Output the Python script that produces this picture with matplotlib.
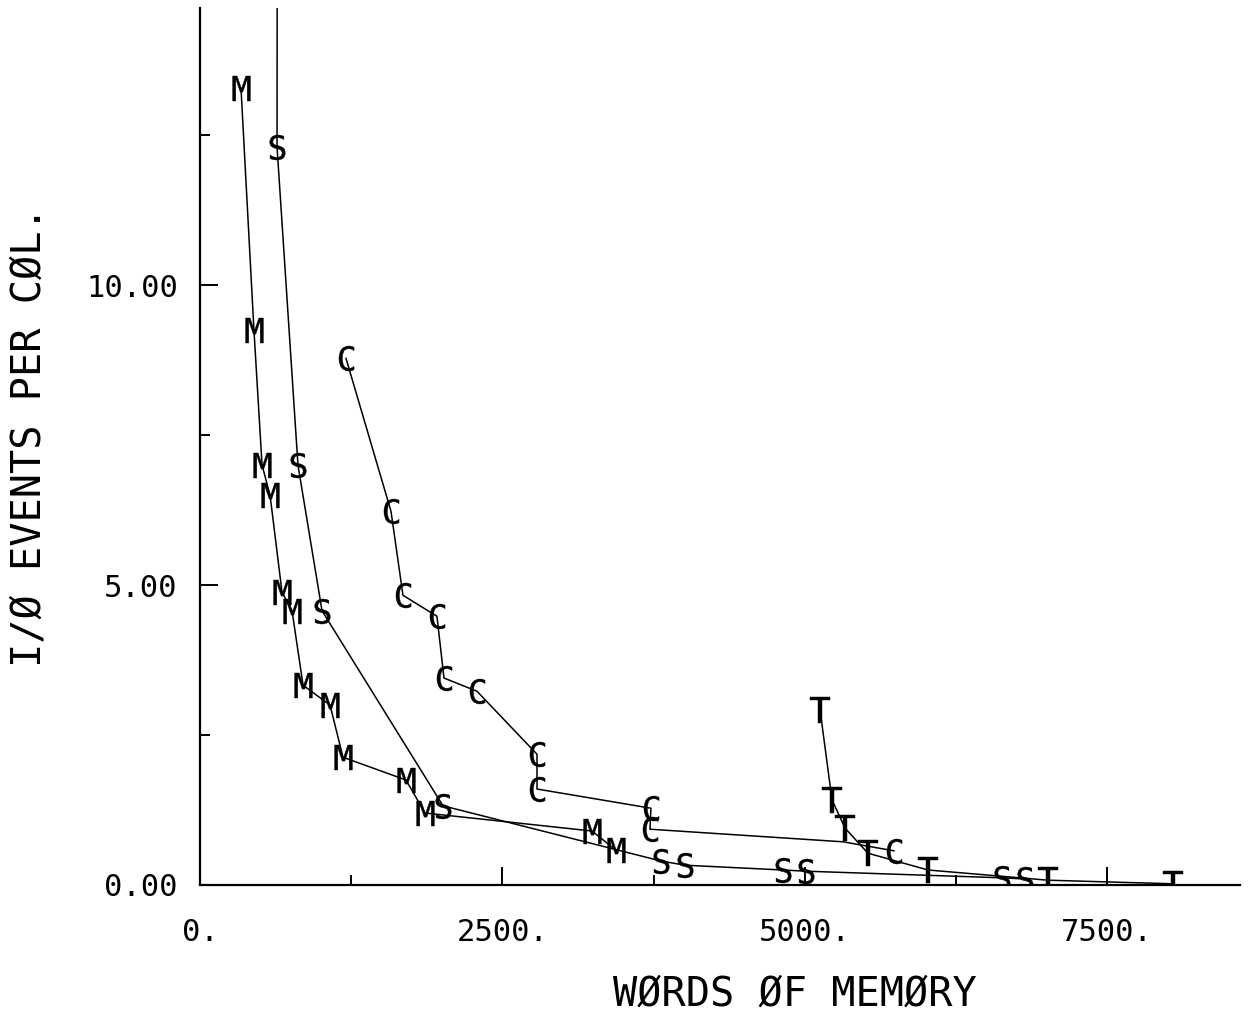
import matplotlib
matplotlib.use("Agg")
import matplotlib.pyplot as plt
from matplotlib.ticker import FixedLocator, FixedFormatter

# ---- data ----
m_x = [339, 446, 513, 579, 678, 761, 852, 1075, 1182, 1703, 1860, 3241, 3439]
m_y = [13.28, 9.25, 7.00, 6.50, 4.88, 4.57, 3.33, 3.00, 2.13, 1.75, 1.20, 0.90, 0.58]

s_x = [640, 637, 810, 1009, 2009, 3811, 4010, 4820, 5010, 6630, 6820]
s_y = [20.0, 12.30, 7.00, 4.57, 1.32, 0.40, 0.33, 0.25, 0.23, 0.12, 0.10]

c_x = [1207, 1579, 1678, 1959, 2017, 2290, 2786, 2786, 3728, 3720, 5316, 5737]
c_y = [8.78, 6.23, 4.83, 4.48, 3.45, 3.23, 2.18, 1.60, 1.28, 0.93, 0.72, 0.57]
c_marked = [0, 1, 2, 3, 4, 5, 6, 7, 8, 9, 11]

t_x = [5126, 5225, 5332, 5522, 6019, 7010, 8044]
t_y = [2.92, 1.42, 0.95, 0.53, 0.25, 0.08, 0.02]

x_major = [0, 2500, 5000, 7500]
x_major_labels = ["0.", "2500.", "5000.", "7500."]
x_minor = [1250, 3750, 6250]
y_major = [0, 5, 10]
y_major_labels = ["0.00", "5.00", "10.00"]
y_minor = [2.5, 7.5, 12.5]

x_label = "WØRDS ØF MEMØRY"
y_label = "I/Ø EVENTS PER CØL."

# ---- figure ----
W, H = 1252, 1019
fig = plt.figure(figsize=(W / 100, H / 100), dpi=100)
ax = fig.add_axes([200 / W, (H - 885) / H, 1040 / W, 877 / H])

mono = "DejaVu Sans Mono"
lw = 1.1
ms = 18

ax.plot(m_x, m_y, color="black", lw=lw, marker=r"$\mathtt{M}$", ms=ms,
        mfc="black", mec="black", mew=0.3, clip_on=True)
ax.plot(s_x, s_y, color="black", lw=lw, marker=r"$\mathtt{S}$", ms=ms,
        mfc="black", mec="black", mew=0.3, clip_on=True)
ax.plot(c_x, c_y, color="black", lw=lw, marker=r"$\mathtt{C}$", ms=ms,
        mfc="black", mec="black", mew=0.3, markevery=c_marked, clip_on=True)
ax.plot(t_x, t_y, color="black", lw=lw, marker=r"$\mathtt{T}$", ms=ms,
        mfc="black", mec="black", mew=0.3, clip_on=True)

ax.set_xlim(0, 8598)
ax.set_ylim(0, 14.62)

for side in ("top", "right"):
    ax.spines[side].set_visible(False)
for side in ("left", "bottom"):
    ax.spines[side].set_linewidth(1.6)

ax.xaxis.set_major_locator(FixedLocator(x_major))
ax.xaxis.set_major_formatter(FixedFormatter(x_major_labels))
ax.xaxis.set_minor_locator(FixedLocator(x_minor))
ax.yaxis.set_major_locator(FixedLocator(y_major))
ax.yaxis.set_major_formatter(FixedFormatter(y_major_labels))
ax.yaxis.set_minor_locator(FixedLocator(y_minor))

ax.tick_params(which="major", direction="in", length=13, width=1.4, colors="black")
ax.tick_params(which="minor", direction="in", length=7, width=1.4, colors="black")
ax.tick_params(axis="x", which="major", pad=24, labelsize=22)
ax.tick_params(axis="y", which="major", pad=16, labelsize=22)
for lab in ax.get_xticklabels() + ax.get_yticklabels():
    lab.set_fontfamily(mono)

ax.text((795 - 200) / 1040, (885 - 995) / 877, x_label, transform=ax.transAxes,
        ha="center", va="center", fontsize=29, family=mono)
ax.text((30 - 200) / 1040, (885 - 437) / 877, y_label, transform=ax.transAxes,
        ha="center", va="center", fontsize=29, family=mono, rotation=90)

fig.savefig("out.png", dpi=100)
